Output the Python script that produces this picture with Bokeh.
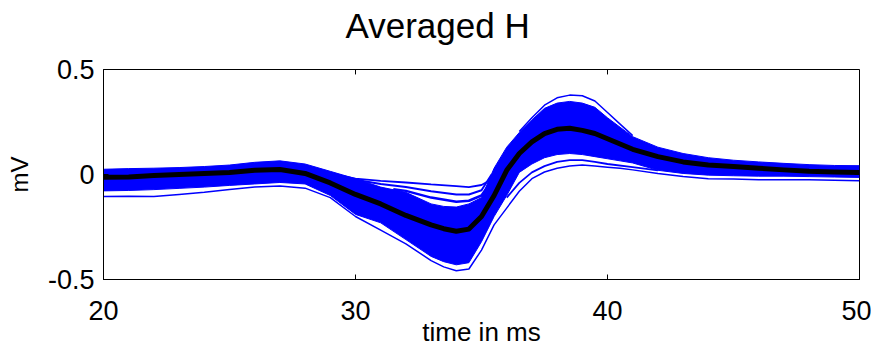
from bokeh.plotting import figure
from bokeh.models import Range1d, FixedTicker, Title
from bokeh.embed import file_html
from bokeh.resources import INLINE

# ---- data ----
T = [20, 21, 22, 23, 24, 25, 26, 27, 28, 29, 30, 31, 32, 33, 33.5, 34, 34.5, 35,
     35.5, 36, 36.5, 37, 37.5, 38, 38.5, 39, 39.5, 40, 40.5, 41, 42, 43, 44, 45,
     46, 47, 48, 49, 50]

mean_trace = [-0.013, -0.012, -0.005, 0.0, 0.005, 0.01, 0.02, 0.024, 0.005, -0.04,
              -0.095, -0.14, -0.195, -0.24, -0.258, -0.27, -0.26, -0.2,
              -0.1, 0.02, 0.1, 0.155, 0.195, 0.215, 0.22, 0.21, 0.195, 0.17, 0.145,
              0.12, 0.085, 0.06, 0.045, 0.038, 0.03, 0.022, 0.015, 0.012, 0.01]

band_upper = [0.025, 0.028, 0.03, 0.033, 0.038, 0.045, 0.058, 0.065, 0.05, 0.015,
              -0.02, -0.06, -0.085, -0.14, -0.152, -0.155, -0.14, -0.11,
              0.03, 0.13, 0.2, 0.26, 0.315, 0.34, 0.348, 0.34, 0.32, 0.27, 0.225,
              0.18, 0.13, 0.1, 0.08, 0.068, 0.06, 0.053, 0.047, 0.043, 0.042]

band_lower = [-0.078, -0.076, -0.072, -0.066, -0.06, -0.052, -0.045, -0.038, -0.045, -0.1,
              -0.19, -0.23, -0.31, -0.39, -0.415, -0.43, -0.42, -0.32,
              -0.2, -0.1, 0.01, 0.05, 0.08, 0.095, 0.1, 0.095, 0.085, 0.075, 0.065,
              0.055, 0.02, 0.005, -0.003, -0.006, -0.008, -0.008, -0.01, -0.012, -0.014]

# outlying single sweeps
low_sweep = [-0.105, -0.103, -0.105, -0.095, -0.085, -0.072, -0.06, -0.055, -0.065, -0.11,
             -0.2, -0.265, -0.33, -0.41, -0.44, -0.458, -0.45, -0.36,
             -0.24, -0.16, -0.08, -0.02, 0.012, 0.03, 0.04, 0.045, 0.04, 0.035, 0.03,
             0.022, 0.005, -0.01, -0.02, -0.022, -0.025, -0.025, -0.025, -0.027, -0.03]

t_high1 = [28, 29, 30, 31, 32, 33, 34, 34.5, 35, 35.3, 35.6]
high_sweep1 = [0.04, 0.005, -0.02, -0.03, -0.038, -0.047, -0.055, -0.06, -0.05, -0.03, 0.04]

t_high2 = [30, 31, 32, 33, 34, 34.5, 35, 35.4]
high_sweep2 = [-0.025, -0.045, -0.06, -0.08, -0.095, -0.095, -0.075, 0.0]

t_high3 = [31.5, 32, 33, 34, 34.5, 35, 35.4]
high_sweep3 = [-0.07, -0.078, -0.11, -0.13, -0.125, -0.1, -0.03]

t_peak = [36.5, 37, 37.5, 38, 38.5, 39, 39.5, 40, 40.5, 41]
peak_sweep = [0.205, 0.27, 0.33, 0.365, 0.378, 0.375, 0.35, 0.295, 0.24, 0.185]

t_low2 = [36, 36.5, 37, 37.5, 38, 38.5, 39, 39.5, 40, 41, 42]
low_sweep2 = [-0.11, -0.04, 0.01, 0.04, 0.06, 0.068, 0.068, 0.06, 0.05, 0.035, 0.02]

XTICKS = [20, 30, 40, 50]
YTICKS = [-0.5, 0, 0.5]
YTICK_LABELS = ["-0.5", "0", "0.5"]

TITLE = "Averaged H"
XLABEL = "time in ms"
YLABEL = "mV"

# ---- figure ----
FONT = "Liberation Sans"
X0, X1, Y0, Y1 = 20, 50, -0.5, 0.5
FRAME_W, FRAME_H = 756, 212
TICK = 5  # px

p = figure(width=871, height=349, x_range=Range1d(X0, X1), y_range=Range1d(Y0, Y1),
           output_backend="svg", toolbar_location=None,
           min_border_left=103, min_border_right=12, min_border_top=69, min_border_bottom=68)
p.background_fill_color = "white"
p.border_fill_color = "white"
p.outline_line_color = "black"
p.outline_line_width = 1
p.xgrid.visible = False
p.ygrid.visible = False

BLUE = "#0000ff"
p.varea(x=T, y1=band_lower, y2=band_upper, fill_color=BLUE)
p.line(T, band_upper, line_color=BLUE, line_width=1)
p.line(T, band_lower, line_color=BLUE, line_width=1)
p.line(T, low_sweep, line_color=BLUE, line_width=1.5)
p.line(t_high1, high_sweep1, line_color=BLUE, line_width=1.8)
p.line(t_high2, high_sweep2, line_color=BLUE, line_width=2)
p.line(t_high3, high_sweep3, line_color=BLUE, line_width=2.5)
p.line(t_peak, peak_sweep, line_color=BLUE, line_width=1.5)
p.line(t_low2, low_sweep2, line_color=BLUE, line_width=1.8)
p.line(T, mean_trace, line_color="black", line_width=5, line_join="round")

# mirrored inward ticks on the top and right edges of the box
dy = TICK * (Y1 - Y0) / FRAME_H
dx = TICK * (X1 - X0) / FRAME_W
p.segment(x0=XTICKS, y0=[Y1] * len(XTICKS), x1=XTICKS, y1=[Y1 - dy] * len(XTICKS),
          line_color="black", line_width=1)
p.segment(x0=[X1] * len(YTICKS), y0=YTICKS, x1=[X1 - dx] * len(YTICKS), y1=YTICKS,
          line_color="black", line_width=1)

def style(ax):
    ax.minor_tick_line_color = None
    ax.major_tick_in = TICK
    ax.major_tick_out = 0
    ax.axis_line_color = "black"
    ax.major_tick_line_color = "black"
    ax.major_label_text_font = FONT
    ax.major_label_text_font_size = "27px"
    ax.major_label_text_color = "black"
    ax.axis_label_text_font = FONT
    ax.axis_label_text_font_style = "normal"
    ax.axis_label_text_color = "black"

xa = p.xaxis[0]
xa.ticker = FixedTicker(ticks=XTICKS)
style(xa)
xa.major_label_standoff = 21
xa.axis_label = XLABEL
xa.axis_label_text_font_size = "26px"
xa.axis_label_standoff = -6

ya = p.yaxis[0]
ya.ticker = FixedTicker(ticks=YTICKS)
style(ya)
ya.major_label_overrides = {t: s for t, s in zip(YTICKS, YTICK_LABELS)}
ya.major_label_standoff = 9
ya.axis_label = YLABEL
ya.axis_label_text_font_size = "24px"
ya.axis_label_standoff = 12

# title: a trailing blank line with tight line height lifts the text above the box
p.title = Title(text=TITLE + "\n", align="left", offset=242, text_font=FONT,
                text_font_size="35px", text_font_style="normal", text_color="black",
                text_line_height=0.63, standoff=0)

open("out.html", "w").write(file_html(p, INLINE))
